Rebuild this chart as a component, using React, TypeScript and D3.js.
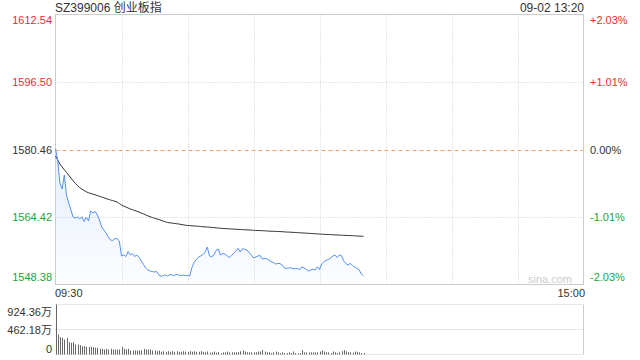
import React from "react";
import * as d3 from "d3";

const title = "SZ399006 创业板指";
const stamp = "09-02 13:20";
const preClose = 1580.46;
const priceTicks = [1612.54, 1596.5, 1580.46, 1564.42, 1548.38];
const priceTickLabels = ["1612.54", "1596.50", "1580.46", "1564.42", "1548.38"];
const pctTickLabels = ["+2.03%", "+1.01%", "0.00%", "-1.01%", "-2.03%"];
const timeLabels = ["09:30", "15:00"];
const volTicks = [924.36, 462.18, 0];
const volTickLabels = ["924.36万", "462.18万", "0"];
const totalMinutes = 240;

const prices = [
  1580.58, 1577.97, 1572.5, 1571.07, 1574.4, 1569.65, 1567.75, 1566.08, 1564.42, 1564.18,
  1564.42, 1563.94, 1564.49, 1563.35, 1564.42, 1563.47, 1565.85, 1565.37, 1565.73, 1564.89,
  1563.71, 1562.04, 1561.33, 1560.62, 1559.67, 1558.95, 1558.84, 1559.31, 1559.19, 1558.72,
  1555.15, 1555.39, 1555.03, 1556.22, 1555.39, 1555.75, 1555.03, 1555.39, 1554.8, 1553.96,
  1553.13, 1552.3, 1551.82, 1551.59, 1551.47, 1551.35, 1551.47, 1550.64, 1550.28, 1550.52,
  1550.64, 1550.4, 1550.76, 1550.64, 1550.52, 1550.76, 1550.64, 1550.47, 1550.64, 1550.52,
  1550.52, 1550.4, 1552.42, 1553.61, 1554.32, 1554.91, 1555.15, 1555.51, 1556.1, 1557.29,
  1555.15, 1554.98, 1555.39, 1556.46, 1556.82, 1555.39, 1555.75, 1555.63, 1555.15, 1554.8,
  1555.27, 1555.79, 1556.34, 1556.98, 1556.1, 1556.93, 1556.7, 1556.58, 1555.98, 1555.39,
  1554.68, 1554.91, 1555.15, 1555.27, 1554.44, 1554.56, 1554.49, 1554.2, 1553.84, 1553.61,
  1553.25, 1553.37, 1553.37, 1553.01, 1552.3, 1552.18, 1552.3, 1552.35, 1552.11, 1552.13,
  1552.18, 1551.9, 1552.54, 1552.3, 1551.94, 1551.59, 1551.82, 1552.01, 1551.82, 1552.58,
  1551.94, 1553.25, 1553.8, 1554.08, 1554.32, 1554.6, 1555.15, 1555.39, 1554.8, 1555.39,
  1555.22, 1554.01, 1553.37, 1553.01, 1553.42, 1552.89, 1552.54, 1552.23, 1551.9, 1550.87,
  1550.47,
];

const avgPrices = [
  1578.92, 1577.97, 1577.01, 1576.3, 1575.66, 1575.02, 1574.35, 1573.69, 1573.02, 1572.4,
  1571.91, 1571.41, 1571.05, 1570.72, 1570.41, 1570.19, 1570.03, 1569.86, 1569.7, 1569.53,
  1569.34, 1569.17, 1568.98, 1568.79, 1568.63, 1568.46, 1568.32, 1568.15, 1567.98, 1567.63,
  1567.27, 1567.01, 1566.8, 1566.56, 1566.32, 1566.15, 1565.96, 1565.77, 1565.58, 1565.37,
  1565.16, 1564.92, 1564.7, 1564.47, 1564.3, 1564.13, 1563.97, 1563.83, 1563.64, 1563.45,
  1563.26, 1563.11, 1563.04, 1562.97, 1562.9, 1562.83, 1562.76, 1562.66, 1562.57, 1562.47,
  1562.4, 1562.38, 1562.33, 1562.28, 1562.26, 1562.21, 1562.16, 1562.11, 1562.07, 1562.04,
  1562.0, 1561.95, 1561.9, 1561.85, 1561.78, 1561.73, 1561.71, 1561.66, 1561.64, 1561.62,
  1561.57, 1561.54, 1561.52, 1561.47, 1561.45, 1561.42, 1561.38, 1561.35, 1561.33, 1561.31,
  1561.26, 1561.23, 1561.21, 1561.19, 1561.16, 1561.14, 1561.09, 1561.07, 1561.04, 1561.02,
  1561.0, 1560.97, 1560.95, 1560.93, 1560.88, 1560.85, 1560.83, 1560.81, 1560.76, 1560.74,
  1560.71, 1560.66, 1560.64, 1560.62, 1560.57, 1560.55, 1560.52, 1560.47, 1560.45, 1560.4,
  1560.38, 1560.33, 1560.31, 1560.28, 1560.26, 1560.24, 1560.19, 1560.17, 1560.14, 1560.12,
  1560.09, 1560.07, 1560.05, 1560.02, 1560.0, 1559.98, 1559.95, 1559.9, 1559.88, 1559.86,
  1559.83,
];

const volumes = [
  924.36, 370, 320, 309, 277, 309, 227, 216, 227, 185,
  185, 172, 153, 153, 142, 142, 142, 135, 124, 124,
  105, 105, 92, 105, 92, 105, 92, 92, 92, 92,
  142, 105, 92, 105, 74, 74, 74, 74, 74, 74,
  105, 92, 92, 92, 74, 74, 61, 74, 50, 61,
  50, 61, 50, 61, 50, 61, 50, 50, 61, 50,
  50, 61, 50, 61, 50, 50, 61, 50, 40, 55,
  35, 40, 55, 35, 50, 25, 40, 40, 55, 40,
  40, 40, 40, 45, 60, 75, 55, 40, 40, 40,
  40, 40, 55, 55, 85, 55, 40, 40, 25, 40,
  55, 40, 25, 40, 25, 25, 40, 25, 55, 25,
  25, 25, 80, 40, 40, 40, 40, 40, 40, 40,
  55, 75, 55, 40, 40, 25, 55, 40, 25, 40,
  60, 80, 60, 45, 40, 30, 55, 50, 40, 25,
  30,
];

const FONT = "'Liberation Sans', Arial, 'Noto Sans CJK SC', sans-serif";
const RED = "#e8302e";
const GREEN = "#22a33a";
const GRID = "#cfcfcf";

export default function App() {
  const left = 55.5;
  const right = 583.5;
  const pTop = 14.5;
  const pBottom = 284.5;
  const vTop = 304.5;
  const vBottom = 354.5;

  const x = d3.scaleLinear().domain([0, totalMinutes]).range([left, right]);
  const y = d3
    .scaleLinear()
    .domain([priceTicks[priceTicks.length - 1], priceTicks[0]])
    .range([pBottom, pTop]);
  const yv = d3.scaleLinear().domain([0, volTicks[0]]).range([vBottom, vTop]);

  const line = d3
    .line<number>()
    .x((_, i) => x(i))
    .y((d) => y(d));
  const area = d3
    .area<number>()
    .x((_, i) => x(i))
    .y0(pBottom)
    .y1((d) => y(d));

  const vGrid = d3.range(1, 8).map((k) => x((totalMinutes / 8) * k));

  const colorFor = (i: number) => (i < 2 ? RED : i === 2 ? "#333" : GREEN);

  return (
    <svg
      width={640}
      height={360}
      style={{ position: "absolute", left: 0, top: 0, background: "#fff" }}
      fontFamily={FONT}
    >
      <defs>
        <linearGradient id="fillGrad" x1="0" y1="0" x2="0" y2="1">
          <stop offset="0%" stopColor="#5a96f0" stopOpacity={0.16} />
          <stop offset="100%" stopColor="#5a96f0" stopOpacity={0.02} />
        </linearGradient>
      </defs>

      <text x={55} y={12} fontSize={12} fill="#333">
        {title}
      </text>
      <text x={584} y={12} fontSize={12} fill="#333" textAnchor="end">
        {stamp}
      </text>

      {/* vertical grid */}
      {vGrid.map((gx, i) => (
        <line
          key={"vg" + i}
          x1={Math.round(gx) + 0.5}
          x2={Math.round(gx) + 0.5}
          y1={pTop}
          y2={pBottom}
          stroke={GRID}
          strokeDasharray="1,2"
        />
      ))}
      {/* horizontal grid */}
      {priceTicks.slice(1, 4).map((p, i) =>
        p === preClose ? null : (
          <line
            key={"hg" + i}
            x1={left}
            x2={right}
            y1={Math.round(y(p)) + 0.5}
            y2={Math.round(y(p)) + 0.5}
            stroke={GRID}
            strokeDasharray="1,2"
          />
        )
      )}

      <path d={area(prices) || ""} fill="url(#fillGrad)" />

      <line
        x1={left}
        x2={right}
        y1={Math.round(y(preClose)) + 0.5}
        y2={Math.round(y(preClose)) + 0.5}
        stroke="#f0a26a"
        strokeDasharray="4,3"
      />

      {/* border */}
      <rect
        x={left}
        y={pTop}
        width={right - left}
        height={pBottom - pTop}
        fill="none"
        stroke="#cccccc"
      />

      <path d={line(avgPrices) || ""} fill="none" stroke="#333" strokeWidth={1} />
      <path d={line(prices) || ""} fill="none" stroke="#5590f0" strokeWidth={1} />

      <text x={572} y={283} fontSize={11} fill="#cccccc" textAnchor="end">
        sina.com
      </text>

      {/* price labels */}
      {priceTicks.map((p, i) => {
        const yy = y(p);
        const ty = i === 0 ? yy + 9 : i === priceTicks.length - 1 ? yy - 4 : yy + 4;
        return (
          <g key={"pl" + i}>
            <text x={52} y={ty} fontSize={11} fill={colorFor(i)} textAnchor="end">
              {priceTickLabels[i]}
            </text>
            <text x={590} y={ty} fontSize={11} fill={colorFor(i)}>
              {pctTickLabels[i]}
            </text>
          </g>
        );
      })}

      <text x={55} y={297} fontSize={11} fill="#333">
        {timeLabels[0]}
      </text>
      <text x={585} y={297} fontSize={11} fill="#333" textAnchor="end">
        {timeLabels[1]}
      </text>

      {/* volume area */}
      {volTicks.map((v, i) => (
        <line
          key={"vl" + i}
          x1={left}
          x2={right}
          y1={yv(v)}
          y2={yv(v)}
          stroke={GRID}
          strokeDasharray="1,1"
        />
      ))}
      <line x1={right} x2={right} y1={vTop} y2={vBottom} stroke="#cccccc" />
      {volumes.map((v, i) => (
        <rect
          key={"vb" + i}
          x={Math.round(x(i))}
          y={yv(v)}
          width={1}
          height={vBottom - yv(v)}
          fill="#666"
        />
      ))}
      {volTicks.map((v, i) => {
        const yy = yv(v);
        const ty = i === 0 ? yy + 11 : i === volTicks.length - 1 ? yy - 2 : yy + 4;
        return (
          <text key={"vt" + i} x={52} y={ty} fontSize={11} fill="#333" textAnchor="end">
            {volTickLabels[i]}
          </text>
        );
      })}
    </svg>
  );
}
